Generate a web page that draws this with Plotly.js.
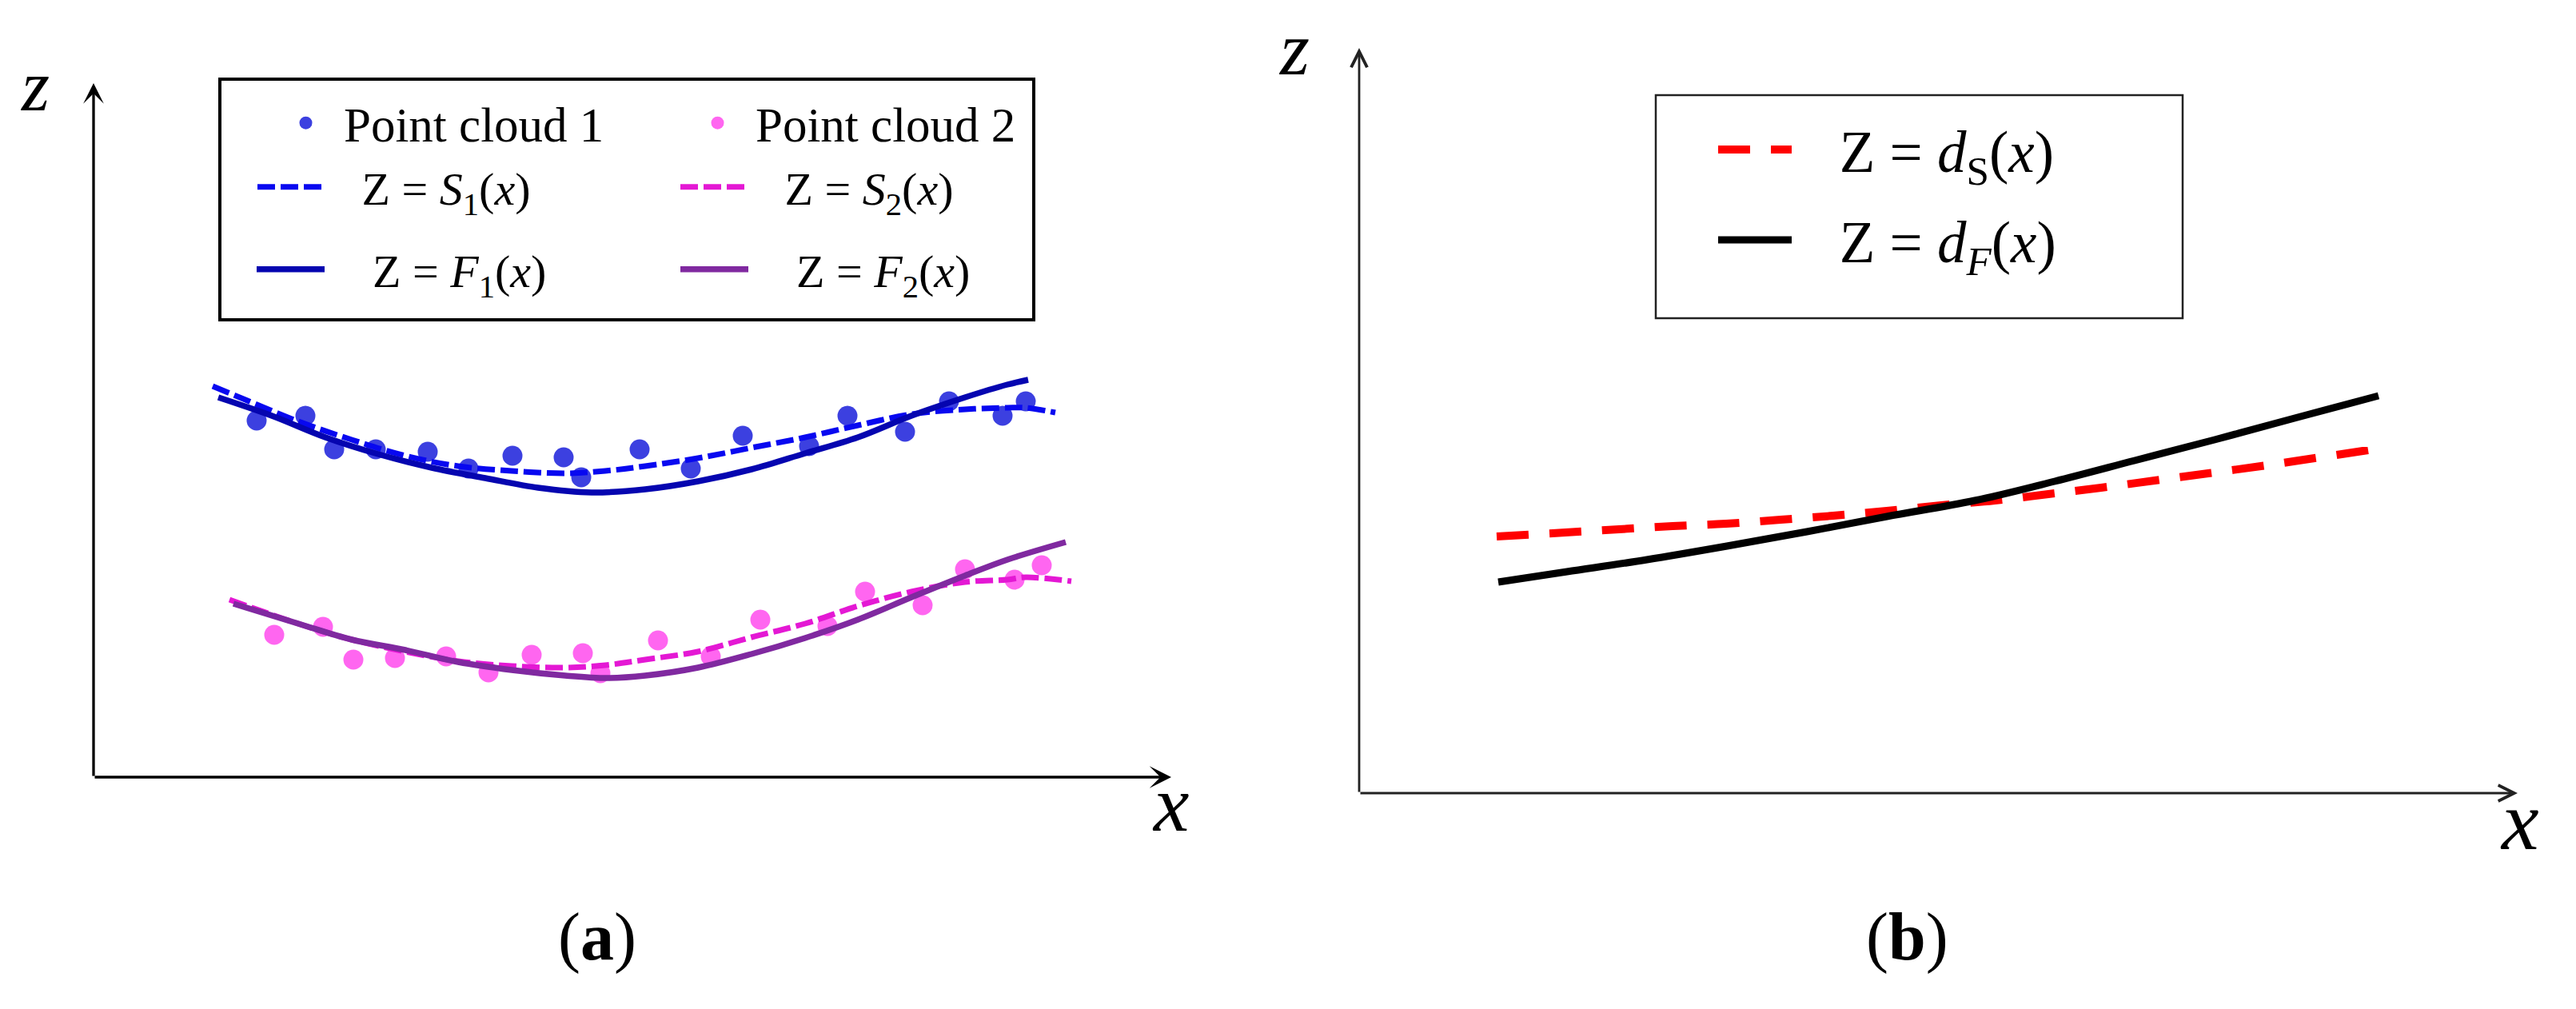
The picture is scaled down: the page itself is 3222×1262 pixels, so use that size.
<!DOCTYPE html>
<html>
<head>
<meta charset="utf-8">
<script src="https://cdn.plot.ly/plotly-3.0.1.min.js"></script>
<style>
  html, body { margin: 0; padding: 0; background: #fff; }
  #chart { width: 3222px; height: 1262px; }
</style>
</head>
<body>
<div id="chart"></div>
<script>
// ---- panel (a): two point clouds and their fitted curves ----
const cloud1X = [20.4, 26.5, 30.1, 35.3, 41.8, 46.9, 52.4, 58.8, 61.0, 68.3, 74.7, 81.2, 89.5, 94.3, 101.5, 107.0, 113.7, 116.6];
const cloud1Z = [44.6, 45.2, 41.0, 41.0, 40.7, 38.6, 40.2, 40.0, 37.5, 41.0, 38.6, 42.7, 41.4, 45.2, 43.2, 47.0, 45.2, 47.0];
const cloud2X = [22.6, 28.7, 32.5, 37.7, 44.1, 49.4, 54.8, 61.2, 63.4, 70.6, 77.2, 83.4, 91.8, 96.5, 103.7, 109.0, 115.2, 118.6];
const cloud2Z = [17.8, 18.8, 14.7, 14.9, 15.1, 13.1, 15.3, 15.5, 13.0, 17.1, 15.1, 19.7, 18.9, 23.2, 21.5, 26.0, 24.7, 26.5];

const s1X = [14.9, 19.0, 25.6, 32.3, 39.0, 45.6, 52.3, 59.0, 64.0, 69.0, 75.6, 82.3, 89.0, 95.6, 102.3, 109.0, 114.3, 116.6, 120.3];
const s1Z = [48.9, 47.2, 44.5, 42.2, 40.2, 38.9, 38.3, 38.0, 38.3, 38.9, 39.9, 41.2, 42.5, 44.0, 45.4, 46.0, 46.2, 46.2, 45.6];
const f1X = [15.6, 22.3, 29.0, 35.6, 42.3, 49.0, 55.6, 62.3, 69.0, 75.6, 82.3, 89.0, 95.6, 102.3, 109.0, 114.3, 116.9];
const f1Z = [47.5, 45.2, 42.5, 40.4, 38.7, 37.4, 36.2, 35.6, 36.0, 37.0, 38.5, 40.5, 42.5, 45.2, 47.5, 49.1, 49.7];

const s2X = [17.0, 25.6, 32.3, 39.0, 45.6, 52.3, 59.0, 64.0, 69.0, 75.6, 82.3, 89.0, 95.6, 102.3, 109.0, 114.3, 116.6, 122.3];
const s2Z = [22.2, 19.2, 17.2, 15.7, 14.5, 13.9, 13.7, 14.0, 14.7, 15.7, 17.5, 19.2, 21.4, 23.2, 24.4, 24.7, 25.0, 24.5];
const f2X = [17.5, 25.6, 32.3, 39.0, 45.6, 52.3, 59.0, 64.3, 69.0, 75.6, 82.3, 89.0, 95.6, 102.3, 109.0, 114.3, 121.6];
const f2Z = [21.7, 19.2, 17.2, 15.9, 14.4, 13.4, 12.7, 12.4, 12.7, 13.7, 15.4, 17.4, 19.7, 22.5, 25.2, 27.2, 29.4];

// ---- panel (b): distance curves ----
const dsX = [17.2, 25.8, 32.5, 39.2, 45.9, 52.7, 59.3, 66.0, 72.8, 79.5, 86.2, 92.8, 99.5, 106.2, 112.8, 119.5, 126.2, 128.0];
const dsZ = [32.1, 32.6, 33.0, 33.4, 33.7, 34.2, 34.7, 35.3, 36.0, 36.6, 37.4, 38.2, 39.1, 40.0, 40.9, 41.9, 42.9, 43.2];
const dfX = [17.4, 26.0, 36.0, 46.0, 56.0, 66.0, 77.0, 87.0, 97.0, 107.0, 117.0, 127.5];
const dfZ = [26.4, 27.7, 29.2, 30.9, 32.7, 34.6, 36.6, 39.0, 41.6, 44.2, 46.9, 49.7];

const namesA = ['Point cloud 1', 'Point cloud 2',
    'Z = <i>S</i><sub>1</sub>(<i>x</i>)', 'Z = <i>S</i><sub>2</sub>(<i>x</i>)',
    'Z = <i>F</i><sub>1</sub>(<i>x</i>)', 'Z = <i>F</i><sub>2</sub>(<i>x</i>)'];
const namesB = ['Z = <i>d</i><sub>S</sub>(<i>x</i>)', 'Z = <i>d</i><sub><i>F</i></sub>(<i>x</i>)'];

const W = 3222, H = 1262;
const FONT = 'Liberation Serif, Times New Roman, serif';
// spacing between legend sample and its label
const NB = '\u00A0';
const padS = NB + NB + '\u2009';
const padF = NB + NB + NB + '\u2009';
const padB = NB + NB + NB;

// pixel position on the page -> paper fraction
function px(x) { return x / W; }
function py(y) { return 1 - y / H; }

const traces = [
    { x: cloud1X, y: cloud1Z, type: 'scatter', mode: 'markers', name: namesA[0], legend: 'legend',
      marker: { size: 25, color: '#3C40E0' } },
    { x: cloud2X, y: cloud2Z, type: 'scatter', mode: 'markers', name: namesA[1], legend: 'legend2',
      marker: { size: 25, color: '#FF66F0' } },
    { x: s1X, y: s1Z, type: 'scatter', mode: 'lines', name: padS + namesA[2], legend: 'legend3',
      line: { color: '#0808F0', width: 7, dash: '22px,7px', shape: 'spline' } },
    { x: s2X, y: s2Z, type: 'scatter', mode: 'lines', name: padS + namesA[3], legend: 'legend4',
      line: { color: '#E418D4', width: 7, dash: '22px,7px', shape: 'spline' } },
    { x: f1X, y: f1Z, type: 'scatter', mode: 'lines', name: padF + namesA[4], legend: 'legend5',
      line: { color: '#0505B0', width: 7.5, shape: 'spline' } },
    { x: f2X, y: f2Z, type: 'scatter', mode: 'lines', name: padF + namesA[5], legend: 'legend6',
      line: { color: '#8029A0', width: 7.5, shape: 'spline' } },
    { x: dsX, y: dsZ, type: 'scatter', mode: 'lines', name: padB + namesB[0], legend: 'legend7',
      xaxis: 'x2', yaxis: 'y2',
      line: { color: '#FF0000', width: 10, dash: '40px,26px', shape: 'spline' } },
    { x: dfX, y: dfZ, type: 'scatter', mode: 'lines', name: padB + namesB[1], legend: 'legend8',
      xaxis: 'x2', yaxis: 'y2',
      line: { color: '#000000', width: 9, shape: 'spline' } }
];

function legendAt(left, yCenter, size, itemW) {
    return {
        x: px(left), y: py(yCenter), xanchor: 'left', yanchor: 'middle',
        bgcolor: 'rgba(0,0,0,0)', borderwidth: 0, itemwidth: itemW,
        font: { family: FONT, size: size, color: '#000' },
        itemclick: false, itemdoubleclick: false
    };
}

function axisArrow(xr, yr, tipX, tipY, head, width, size, color) {
    return { xref: xr, yref: yr, axref: xr, ayref: yr, x: tipX, y: tipY, ax: 0, ay: 0,
             text: '', showarrow: true, arrowhead: head, arrowwidth: width, arrowsize: size,
             arrowcolor: color, standoff: 0 };
}

function label(x, y, text, size) {
    return { xref: 'paper', yref: 'paper', x: px(x), y: py(y), xanchor: 'center', yanchor: 'middle',
             text: text, showarrow: false, font: { family: FONT, size: size, color: '#000' } };
}

const layout = {
    width: W, height: H,
    margin: { l: 0, r: 0, t: 0, b: 0, autoexpand: false },
    paper_bgcolor: '#fff', plot_bgcolor: '#fff',
    showlegend: true,
    xaxis: { domain: [0, 1600 / W], range: [-11.7, 148.3], visible: false, fixedrange: true },
    yaxis: { domain: [0, 1], range: [-29, 97.2], visible: false, fixedrange: true },
    xaxis2: { domain: [1600 / W, 1], range: [-10, 152.2], visible: false, anchor: 'y2', fixedrange: true },
    yaxis2: { domain: [0, 1], range: [-27, 99.2], visible: false, anchor: 'x2', fixedrange: true },
    legend: legendAt(335, 154, 61, 85),
    legend2: legendAt(850, 154, 61, 85),
    legend3: legendAt(317, 234, 58, 85),
    legend4: legendAt(846, 234, 58, 85),
    legend5: legendAt(316, 337, 58, 85),
    legend6: legendAt(846, 337, 58, 85),
    legend7: legendAt(2144, 187, 73, 92),
    legend8: legendAt(2144, 300, 73, 92),
    shapes: [
        { type: 'rect', xref: 'paper', yref: 'paper', x0: px(275), x1: px(1293), y0: py(400), y1: py(99),
          line: { color: '#000', width: 4 } },
        { type: 'rect', xref: 'paper', yref: 'paper', x0: px(2071), x1: px(2730), y0: py(398), y1: py(119),
          line: { color: '#222', width: 2.5 } }
    ],
    annotations: [
        axisArrow('x', 'y', 0, 86.8, 3, 3.3, 1.3, '#000'),
        axisArrow('x', 'y', 134.8, 0, 3, 3.5, 1.3, '#000'),
        axisArrow('x2', 'y2', 0, 93.2, 5, 2.8, 1.4, '#222'),
        axisArrow('x2', 'y2', 144.9, 0, 5, 2.8, 1.4, '#222'),
        label(43, 107, '<i>z</i>', 90),
        label(1464, 1005, '<i>x</i>', 100),
        label(747, 1172, '(<b>a</b>)', 84),
        label(1618, 61, '<i>z</i>', 95),
        label(3151, 1026, '<i>x</i>', 105),
        label(2385, 1172, '(<b>b</b>)', 84)
    ]
};

Plotly.newPlot('chart', traces, layout, { staticPlot: true, displayModeBar: false });
</script>
</body>
</html>
